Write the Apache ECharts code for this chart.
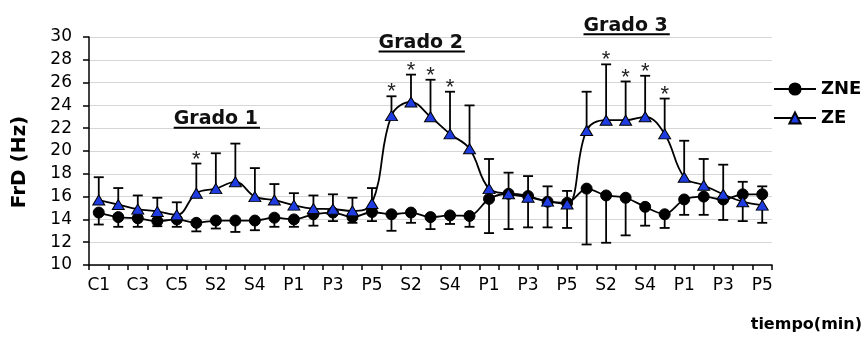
<!DOCTYPE html>
<html>
<head>
<meta charset="utf-8">
<script src="https://cdn.jsdelivr.net/npm/echarts@6/dist/echarts.min.js"></script>
<style>
  html, body { margin: 0; padding: 0; background: #ffffff; }
  #chart { width: 865px; height: 338px; }
</style>
</head>
<body>
<div id="chart"></div>
<script>
// Time points: control, then three stimulation (S) / post (P) blocks
const categories = [
  'C1','C2','C3','C4','C5',
  'S1','S2','S3','S4','S5',
  'P1','P2','P3','P4','P5',
  'S1','S2','S3','S4','S5',
  'P1','P2','P3','P4','P5',
  'S1','S2','S3','S4','S5',
  'P1','P2','P3','P4','P5'
];

// ZNE group: mean and SD (SD drawn downward)
const zneMean = [
  14.6, 14.2, 14.1, 13.85, 14.0,
  13.7, 13.9, 13.9, 13.9, 14.15,
  14.0, 14.45, 14.6, 14.2, 14.65,
  14.45, 14.6, 14.2, 14.35, 14.3,
  15.8, 16.25, 16.05, 15.55, 15.45,
  16.7, 16.1, 15.9, 15.1, 14.45,
  15.75, 16.0, 15.75, 16.2, 16.2
];
const zneSD = [
  1.05, 0.85, 0.75, 0.45, 0.65,
  0.75, 0.7, 1.0, 0.85, 0.8,
  0.65, 1.0, 0.75, 0.5, 0.8,
  1.45, 0.9, 1.05, 0.75, 0.95,
  3.0, 3.1, 2.75, 2.25, 2.2,
  4.9, 4.15, 3.3, 1.65, 1.2,
  1.35, 1.6, 1.8, 2.35, 2.5
];

// ZE group: mean and SD (SD drawn upward)
const zeMean = [
  15.7, 15.3, 14.9, 14.7, 14.4,
  16.3, 16.7, 17.3, 16.0, 15.7,
  15.25, 14.95, 14.9, 14.75, 15.4,
  23.1, 24.3, 23.0, 21.5, 20.2,
  16.7, 16.25, 15.95, 15.6, 15.35,
  21.8, 22.7, 22.7, 23.0, 21.5,
  17.7, 17.0, 16.2, 15.55, 15.25
];
const zeSD = [
  2.0, 1.45, 1.2, 1.2, 1.1,
  2.6, 3.1, 3.35, 2.5, 1.4,
  1.05, 1.15, 1.3, 1.15, 1.35,
  1.7, 2.4, 3.25, 3.7, 3.8,
  2.6, 1.85, 1.85, 1.3, 1.15,
  3.4, 4.9, 3.4, 3.6, 3.1,
  3.2, 2.3, 2.6, 1.75, 1.65
];

// Indices of time points marked as significant (*)
const significant = [5, 15, 16, 17, 18, 26, 27, 28, 29];

// Y axis scale
const yMin = 10;
const yMax = 30;
const yStep = 2;

// Block titles: text, category position and underline value
const gradoText = ['Grado 1', 'Grado 2', 'Grado 3'];
const gradoX = [6, 16.5, 27];
const gradoY = [22.05, 28.72, 30.25];

const BLUE = '#1e3ce0';
const gradoFont = 'bold 19px "DejaVu Sans"';
const LINE_W = 1.8;

const measureCtx = document.createElement('canvas').getContext('2d');
function textWidth(str, font) {
  measureCtx.font = font;
  return measureCtx.measureText(str).width;
}

function errorBarRenderer(showStars) {
  return function (params, api) {
    const i = api.value(0);
    const p0 = api.coord([i, api.value(1)]);
    const p1 = api.coord([i, api.value(2)]);
    const half = 5;
    const stroke = { stroke: '#000', lineWidth: LINE_W };
    const children = [
      { type: 'line', shape: { x1: p0[0], y1: p0[1], x2: p1[0], y2: p1[1] }, style: stroke },
      { type: 'line', shape: { x1: p1[0] - half, y1: p1[1], x2: p1[0] + half, y2: p1[1] }, style: stroke }
    ];
    if (showStars && significant.indexOf(params.dataIndex) >= 0) {
      children.push({
        type: 'text', x: p1[0], y: p1[1] - 4,
        style: { text: '*', fontSize: 22, fontFamily: '"Liberation Sans"', fill: '#222',
                 align: 'center', verticalAlign: 'middle' }
      });
    }
    return { type: 'group', children: children };
  };
}

function gradoRenderer(params, api) {
  const k = params.dataIndex;
  const gx = gradoX[k];
  const lo = Math.floor(gx), hi = Math.ceil(gx), t = gx - lo;
  const a = api.coord([lo, gradoY[k]]);
  const b = api.coord([hi, gradoY[k]]);
  const x = a[0] + (b[0] - a[0]) * t;
  const y = a[1];
  const w = textWidth(gradoText[k], gradoFont);
  return {
    type: 'group',
    children: [
      { type: 'text', x: x, y: y + 1,
        style: { text: gradoText[k], font: gradoFont, fill: '#111', align: 'center', verticalAlign: 'bottom' } },
      { type: 'rect', shape: { x: x - w / 2, y: y - 1, width: w + 2, height: 2 }, style: { fill: '#000' } }
    ]
  };
}

const chart = echarts.init(document.getElementById('chart'), null, { renderer: 'canvas' });

chart.setOption({
  animation: false,
  backgroundColor: '#ffffff',
  grid: { left: 89, right: 93, top: 37, bottom: 73, containLabel: false },
  legend: {
    orient: 'vertical',
    left: 773,
    top: 80,
    padding: 0,
    itemWidth: 42,
    itemHeight: 14,
    itemGap: 11,
    data: ['ZNE', 'ZE'],
    textStyle: { fontFamily: '"DejaVu Sans"', fontWeight: 'bold', fontSize: 18, color: '#000' }
  },
  xAxis: {
    type: 'category',
    data: categories,
    boundaryGap: true,
    axisLine: { show: true, lineStyle: { color: '#000', width: 1.5 } },
    axisTick: { show: true, interval: 0, length: 5, lineStyle: { color: '#000', width: 1.5 } },
    axisLabel: { interval: 1, margin: 12, fontFamily: '"DejaVu Sans"', fontSize: 17, color: '#000' },
    splitLine: { show: false }
  },
  yAxis: {
    type: 'value',
    min: yMin,
    max: yMax,
    interval: yStep,
    name: 'FrD (Hz)',
    nameLocation: 'middle',
    nameRotate: 90,
    nameGap: 59,
    nameTextStyle: { fontFamily: '"DejaVu Sans"', fontWeight: 'bold', fontSize: 20, color: '#000', padding: [0, 22, 0, 0] },
    axisLine: { show: true, lineStyle: { color: '#000', width: 1.5 } },
    axisTick: { show: true, length: 6, lineStyle: { color: '#000', width: 1.5 } },
    axisLabel: { margin: 17, fontFamily: '"DejaVu Sans"', fontSize: 17, color: '#000' },
    splitLine: { show: true, lineStyle: { color: '#d6d6d6', width: 1 } }
  },
  graphic: [
    { type: 'text', right: 3, top: 317,
      style: { text: 'tiempo(min)', font: 'bold 16px "DejaVu Sans"', fill: '#000' } }
  ],
  series: [
    {
      type: 'custom', name: 'ZNE-sd', z: 1, silent: true,
      renderItem: errorBarRenderer(false),
      encode: { x: 0, y: 1 },
      data: zneMean.map((m, i) => [i, m, m - zneSD[i]])
    },
    {
      type: 'custom', name: 'ZE-sd', z: 1, silent: true,
      renderItem: errorBarRenderer(true),
      encode: { x: 0, y: 1 },
      data: zeMean.map((m, i) => [i, m, m + zeSD[i]])
    },
    {
      type: 'line', name: 'ZNE', z: 3,
      data: zneMean,
      smooth: 0.3,
      symbol: 'circle', symbolSize: 11,
      lineStyle: { color: '#000', width: LINE_W },
      itemStyle: { color: '#000', borderColor: '#000', borderWidth: 1 }
    },
    {
      type: 'line', name: 'ZE', z: 4,
      data: zeMean,
      smooth: 0.4,
      symbol: 'triangle', symbolSize: [12, 10],
      lineStyle: { color: '#000', width: LINE_W },
      itemStyle: { color: BLUE, borderColor: '#000', borderWidth: 1 }
    },
    {
      type: 'custom', name: 'grado', z: 5, silent: true,
      renderItem: gradoRenderer,
      encode: { x: 0, y: 1 },
      data: gradoY.map((v, i) => [i, v])
    }
  ]
});
</script>
</body>
</html>
